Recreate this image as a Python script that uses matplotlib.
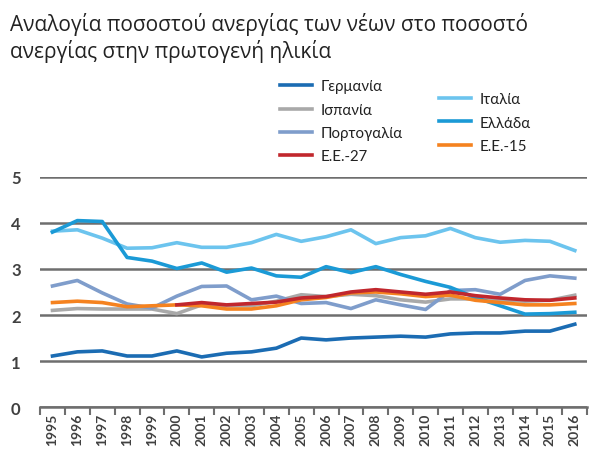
import matplotlib.pyplot as plt

plt.rcParams['font.family'] = ['Lato', 'DejaVu Sans']

years = list(range(1995, 2017))

germany = [1.11, 1.20, 1.22, 1.11, 1.11, 1.22, 1.09, 1.17, 1.20, 1.28, 1.50,
           1.46, 1.50, 1.52, 1.54, 1.52, 1.59, 1.61, 1.61, 1.65, 1.65, 1.80]
spain = [2.10, 2.14, 2.13, 2.13, 2.13, 2.03, 2.22, 2.20, 2.20, 2.30, 2.44,
         2.40, 2.45, 2.42, 2.33, 2.28, 2.35, 2.35, 2.32, 2.30, 2.32, 2.43]
portugal = [2.63, 2.75, 2.48, 2.24, 2.15, 2.41, 2.62, 2.63, 2.33, 2.41, 2.25,
            2.27, 2.14, 2.33, 2.22, 2.12, 2.53, 2.55, 2.45, 2.75, 2.85, 2.80]
eu27_years = list(range(2000, 2017))
eu27 = [2.22, 2.27, 2.22, 2.25, 2.28, 2.37, 2.40, 2.50, 2.55, 2.50, 2.45,
        2.50, 2.42, 2.37, 2.33, 2.32, 2.37]
italy = [3.82, 3.85, 3.67, 3.45, 3.46, 3.57, 3.47, 3.47, 3.57, 3.75, 3.60,
         3.70, 3.85, 3.55, 3.68, 3.72, 3.88, 3.68, 3.58, 3.62, 3.60, 3.40]
greece = [3.80, 4.05, 4.03, 3.25, 3.17, 3.01, 3.13, 2.93, 3.02, 2.85, 2.82,
          3.05, 2.92, 3.05, 2.88, 2.73, 2.60, 2.38, 2.20, 2.02, 2.03, 2.06]
eu15 = [2.27, 2.30, 2.27, 2.18, 2.20, 2.22, 2.20, 2.13, 2.13, 2.20, 2.33,
        2.38, 2.48, 2.50, 2.46, 2.40, 2.43, 2.32, 2.27, 2.22, 2.22, 2.25]

fig = plt.figure(figsize=(5.89, 4.56), dpi=100)
ax = fig.add_axes([0.068, 0.105, 0.929, 0.505])

lw = 2.6
l_de, = ax.plot(years, germany, color='#1b6cb3', lw=lw, label='Γερμανία')
l_es, = ax.plot(years, spain, color='#a9a9a9', lw=lw, label='Ισπανία')
l_pt, = ax.plot(years, portugal, color='#7f9dcb', lw=lw, label='Πορτογαλία')
l_it, = ax.plot(years, italy, color='#6cc4ee', lw=lw, label='Ιταλία')
l_gr, = ax.plot(years, greece, color='#1b9ad6', lw=lw, label='Ελλάδα')
l_15, = ax.plot(years, eu15, color='#f5821f', lw=lw, label='Ε.Ε.-15')
l_27, = ax.plot(eu27_years, eu27, color='#c1272d', lw=lw, label='Ε.Ε.-27')

ax.set_xlim(1994.5, 2016.5)
ax.set_ylim(0, 5)
ax.set_yticks([0, 1, 2, 3, 4, 5])
ax.yaxis.grid(True, color='#6e6e6e', lw=1.8)
ax.set_axisbelow(True)
for s in ['top', 'right', 'left']:
    ax.spines[s].set_visible(False)
ax.spines['bottom'].set_color('#6e6e6e')
ax.spines['bottom'].set_linewidth(1.8)

# ticks between categories, labels at the points
ax.set_xticks([y + 0.5 for y in range(1994, 2017)])
ax.set_xticklabels([])
ax.set_xticks(years, minor=True)
ax.set_xticklabels([str(y) for y in years], minor=True, rotation=90,
                   fontsize=10, fontweight='bold', color='#404040')
ax.tick_params(axis='x', which='major', length=6, width=1.5, color='#6e6e6e')
ax.tick_params(axis='x', which='minor', length=0, pad=4)
ax.tick_params(axis='y', length=0, labelsize=12, labelcolor='#404040', pad=14)
for t in ax.get_yticklabels():
    t.set_fontweight('bold')

fig.text(0.017, 0.972, 'Αναλογία ποσοστού ανεργίας των νέων στο ποσοστό\nανεργίας στην πρωτογενή ηλικία',
         fontsize=15, family=['Open Sans', 'DejaVu Sans'], va='top', ha='left',
         color='#222222', linespacing=1.25)

leg_kw = dict(frameon=False, fontsize=10.8, handlelength=2.1, labelspacing=0.62,
              handletextpad=0.6, borderpad=0, labelcolor='#222222')
fig.legend([l_de, l_es, l_pt, l_27], ['Γερμανία', 'Ισπανία', 'Πορτογαλία', 'Ε.Ε.-27'],
           loc='upper left', bbox_to_anchor=(0.463, 0.84), **leg_kw)
fig.legend([l_it, l_gr, l_15], ['Ιταλία', 'Ελλάδα', 'Ε.Ε.-15'],
           loc='upper left', bbox_to_anchor=(0.733, 0.812), **leg_kw)

fig.savefig('out.png', dpi=100)
